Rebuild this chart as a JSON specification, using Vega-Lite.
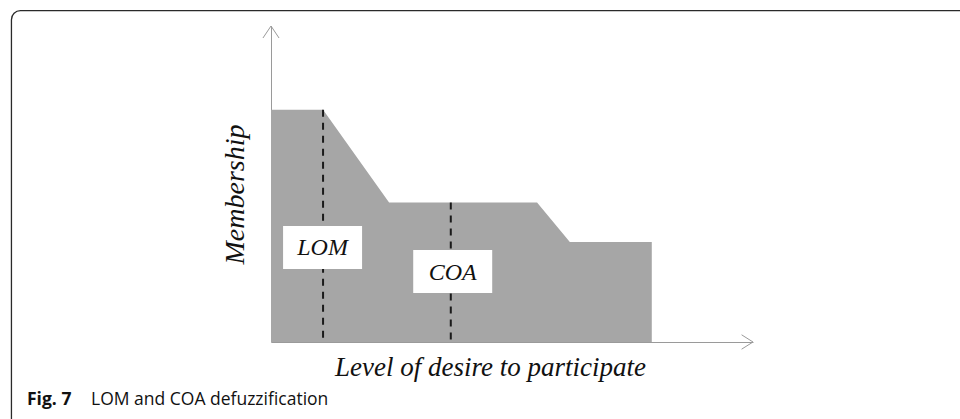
{
  "$schema": "https://vega.github.io/schema/vega-lite/v6.json",
  "autosize": "none",
  "width": 482,
  "height": 316,
  "padding": {"left": 271, "top": 26, "right": 207, "bottom": 77},
  "background": "white",
  "config": {"view": {"stroke": null}},
  "data": {"values": [{"note": "annotation"}]},
  "datasets": {
    "membership": [
      {"level": 0, "membership": 1.0},
      {"level": 1.08, "membership": 1.0},
      {"level": 2.45, "membership": 0.6},
      {"level": 5.52, "membership": 0.6},
      {"level": 6.2, "membership": 0.43},
      {"level": 7.9, "membership": 0.43}
    ],
    "methods": [
      {"method": "LOM", "level": 1.08, "membership": 1.0, "labelLevel": 1.07, "labelMembership": 0.407},
      {"method": "COA", "level": 3.73, "membership": 0.6, "labelLevel": 3.77, "labelMembership": 0.303}
    ]
  },
  "layer": [
    {
      "data": {"name": "membership"},
      "mark": {"type": "area", "color": "#a6a6a6", "opacity": 1, "interpolate": "linear"},
      "encoding": {
        "x": {
          "field": "level", "type": "quantitative",
          "scale": {"domain": [0, 10], "nice": false, "zero": false},
          "axis": {
            "domain": true, "domainColor": "#9a9a9a", "domainWidth": 1,
            "ticks": false, "labels": false, "grid": false,
            "title": "Level of desire to participate",
            "titleFont": "Liberation Serif", "titleFontStyle": "italic", "titleFontWeight": "normal",
            "titleFontSize": 27, "titleColor": "#111111",
            "titleX": 219, "titleY": 33, "titleAlign": "center", "titleBaseline": "alphabetic"
          }
        },
        "y": {
          "field": "membership", "type": "quantitative",
          "scale": {"domain": [0, 1.36], "nice": false, "zero": false},
          "axis": {
            "domain": true, "domainColor": "#9a9a9a", "domainWidth": 1,
            "ticks": false, "labels": false, "grid": false,
            "title": "Membership",
            "titleFont": "Liberation Serif", "titleFontStyle": "italic", "titleFontWeight": "normal",
            "titleFontSize": 28, "titleColor": "#111111", "titleAngle": -90,
            "titleX": -28, "titleY": 168, "titleAlign": "center", "titleBaseline": "alphabetic"
          }
        }
      }
    },
    {
      "data": {"name": "methods"},
      "mark": {"type": "rule", "color": "#1a1a1a", "strokeWidth": 2, "strokeDash": [7, 6]},
      "encoding": {
        "x": {"field": "level", "type": "quantitative"},
        "y": {"field": "membership", "type": "quantitative"},
        "y2": {"datum": 0}
      }
    },
    {
      "data": {"name": "methods"},
      "mark": {"type": "rect", "color": "white", "opacity": 1, "xOffset": -39.5, "x2Offset": 39.5, "yOffset": -21.5, "y2Offset": 21.5},
      "encoding": {
        "x": {"field": "labelLevel", "type": "quantitative"},
        "x2": {"field": "labelLevel"},
        "y": {"field": "labelMembership", "type": "quantitative"},
        "y2": {"field": "labelMembership"}
      }
    },
    {
      "data": {"name": "methods"},
      "mark": {"type": "text", "font": "Liberation Serif", "fontStyle": "italic", "fontSize": 24, "color": "#111111", "align": "center", "baseline": "middle", "dy": 1},
      "encoding": {
        "x": {"field": "labelLevel", "type": "quantitative"},
        "y": {"field": "labelMembership", "type": "quantitative"},
        "text": {"field": "method", "type": "nominal"}
      }
    },
    {
      "mark": {"type": "point", "shape": "M-0.67,1L0,0L0.67,1", "size": 576, "filled": false, "stroke": "#9a9a9a", "strokeWidth": 1, "opacity": 1},
      "encoding": {"x": {"datum": 0, "type": "quantitative"}, "y": {"datum": 1.36, "type": "quantitative"}}
    },
    {
      "mark": {"type": "point", "shape": "M-0.95,-0.6L0,0L-0.95,0.6", "size": 576, "filled": false, "stroke": "#9a9a9a", "strokeWidth": 1, "opacity": 1},
      "encoding": {"x": {"datum": 10, "type": "quantitative"}, "y": {"datum": 0, "type": "quantitative"}}
    },
    {
      "mark": {"type": "rect", "fill": "transparent", "stroke": "#2a2a2a", "strokeWidth": 1.3, "cornerRadius": 9},
      "encoding": {
        "x": {"datum": -5.385, "type": "quantitative"}, "x2": {"datum": 15},
        "y": {"datum": 1.426, "type": "quantitative"}, "y2": {"datum": -0.5}
      }
    },
    {
      "mark": {"type": "text", "font": "Open Sans", "fontWeight": "bold", "fontSize": 17.5, "color": "#111111", "align": "left", "baseline": "alphabetic"},
      "encoding": {"x": {"datum": -5.062, "type": "quantitative"}, "y": {"datum": -0.271, "type": "quantitative"}, "text": {"datum": "Fig. 7"}}
    },
    {
      "mark": {"type": "text", "font": "Open Sans", "fontSize": 17.5, "color": "#111111", "align": "left", "baseline": "alphabetic"},
      "encoding": {"x": {"datum": -3.734, "type": "quantitative"}, "y": {"datum": -0.271, "type": "quantitative"}, "text": {"datum": "LOM and COA defuzzification"}}
    }
  ]
}
